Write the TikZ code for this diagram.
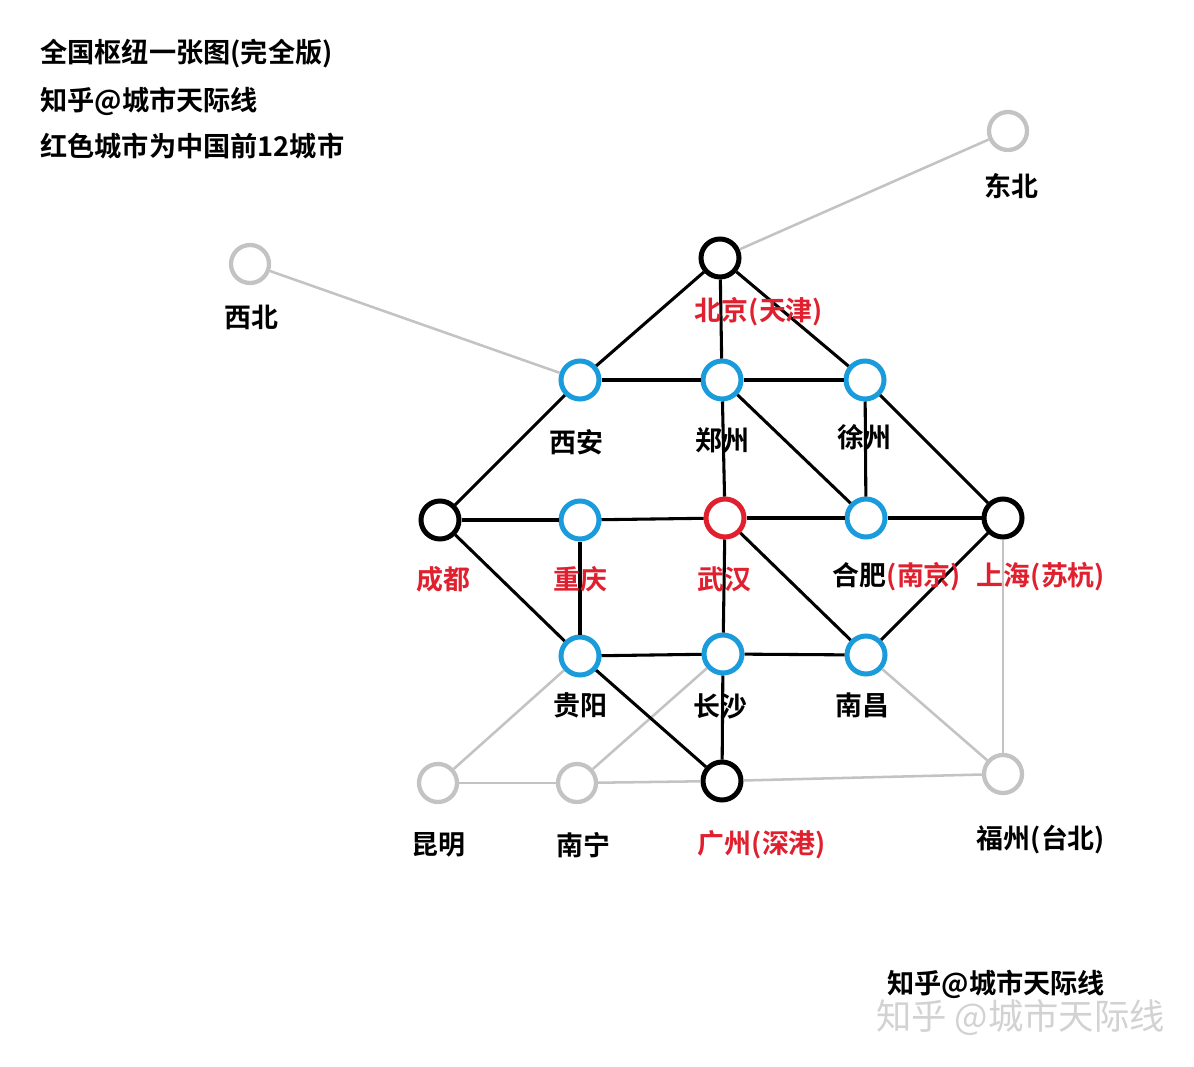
\documentclass[tikz,border=0pt]{standalone}
\usepackage{fontspec}
\setmainfont{Noto Sans CJK SC}[BoldFont={* Bold}]
\definecolor{hubblue}{HTML}{1A9BDC}
\definecolor{hubred}{HTML}{E0202E}
\definecolor{hubgrey}{HTML}{C3C3C3}
\definecolor{wmgrey}{HTML}{D2D2D2}
\tikzset{
  hub/.style={circle, draw, line width=3.75pt, minimum size=28.5pt, inner sep=0pt, fill=white},
  hubk/.style={hub, draw=black},
  hubb/.style={hub, draw=hubblue},
  hubr/.style={hub, draw=hubred},
  hubg/.style={hub, draw=hubgrey, line width=3.2pt},
  rail/.style={line width=2.3pt, draw=black},
  grail/.style={line width=1.9pt, draw=hubgrey},
  lbl/.style={font=\bfseries\fontsize{20.2}{24}\selectfont, inner sep=0pt},
  lblr/.style={lbl, text=hubred},
  ttl/.style={font=\bfseries\fontsize{20.4}{24}\selectfont, inner sep=0pt, anchor=west},
}
\begin{document}
\begin{tikzpicture}[x=0.75pt,y=-0.75pt]
\useasboundingbox[fill=white] (0,0) rectangle (1194,1066);
\node[hubk] (bj) at (720,258) {};
\node[hubg] (db) at (1008,131) {};
\node[hubg] (xb) at (250,264) {};
\node[hubb] (xa) at (580,380) {};
\node[hubb] (zz) at (722,380) {};
\node[hubb] (xz) at (865,380) {};
\node[hubk] (cd) at (440,520) {};
\node[hubb] (cq) at (580,520) {};
\node[hubr] (wh) at (725,518) {};
\node[hubb] (hf) at (866,518) {};
\node[hubk] (sh) at (1003,518) {};
\node[hubb] (gy) at (580,656) {};
\node[hubb] (cs) at (723,654) {};
\node[hubb] (nc) at (866,655) {};
\node[hubg] (km) at (438,783) {};
\node[hubg] (nn) at (577,783) {};
\node[hubk] (gz) at (722,781) {};
\node[hubg] (fz) at (1003,774) {};
% grey links
\draw[grail] (bj) -- (db);
\draw[grail] (xb) -- (xa);
\draw[grail] (gy) -- (km);
\draw[grail] (cs) -- (nn);
\draw[grail] (km) -- (nn);
\draw[grail] (nn) -- (gz);
\draw[grail] (gz) -- (fz);
\draw[grail] (nc) -- (fz);
\draw[grail] (sh) -- (fz);
% black links
\draw[rail] (bj) -- (xa);
\draw[rail] (bj) -- (zz);
\draw[rail] (bj) -- (xz);
\draw[rail] (xa) -- (zz);
\draw[rail] (zz) -- (xz);
\draw[rail] (xa) -- (cd);
\draw[rail] (zz) -- (wh);
\draw[rail] (zz) -- (hf);
\draw[rail] (xz) -- (hf);
\draw[rail] (xz) -- (sh);
\draw[rail] (cd) -- (cq);
\draw[rail] (cq) -- (wh);
\draw[rail] (wh) -- (hf);
\draw[rail] (hf) -- (sh);
\draw[rail] (cd) -- (gy);
\draw[rail] (cq) -- (gy);
\draw[rail] (wh) -- (cs);
\draw[rail] (wh) -- (nc);
\draw[rail] (sh) -- (nc);
\draw[rail] (gy) -- (cs);
\draw[rail] (cs) -- (nc);
\draw[rail] (gy) -- (gz);
\draw[rail] (cs) -- (gz);
% labels
\node[lblr] (lbj) at (759,312) {北京(天津)};
\node[lbl] (ldb) at (1011,186) {东北};
\node[lbl] (lxb) at (251,317) {西北};
\node[lbl] (lxa) at (576,442) {西安};
\node[lbl] (lzz) at (722,440) {郑州};
\node[lbl] (lxz) at (864,437) {徐州};
\node[lblr] (lcd) at (443,579) {成都};
\node[lblr] (lcq) at (580,579) {重庆};
\node[lblr] (lwh) at (724,579) {武汉};
\node[lbl] (lhf) at (897,577) {合肥\textcolor{hubred}{(南京)}};
\node[lblr] (lsh) at (1041,577) {上海(苏杭)};
\node[lbl] (lgy) at (580,705) {贵阳};
\node[lbl] (lcs) at (720,706) {长沙};
\node[lbl] (lnc) at (862,705) {南昌};
\node[lbl] (lkm) at (438,845) {昆明};
\node[lbl] (lnn) at (583,845) {南宁};
\node[lblr] (lgz) at (762,845) {广州(深港)};
\node[lbl] (lfz) at (1041,840) {福州(台北)};
% titles
\node[ttl] (t1) at (40,54) {全国枢纽一张图(完全版)};
\node[ttl] (t2) at (40,101) {知乎@城市天际线};
\node[ttl] (t3) at (40,146) {红色城市为中国前12城市};
\node[ttl] (t4) at (887,984) {知乎@城市天际线};
\node[font=\fontsize{26.5}{30}\selectfont, text=wmgrey, inner sep=0pt, anchor=west] (wm) at (876,1018) {知乎 @城市天际线};
\end{tikzpicture}
\end{document}
